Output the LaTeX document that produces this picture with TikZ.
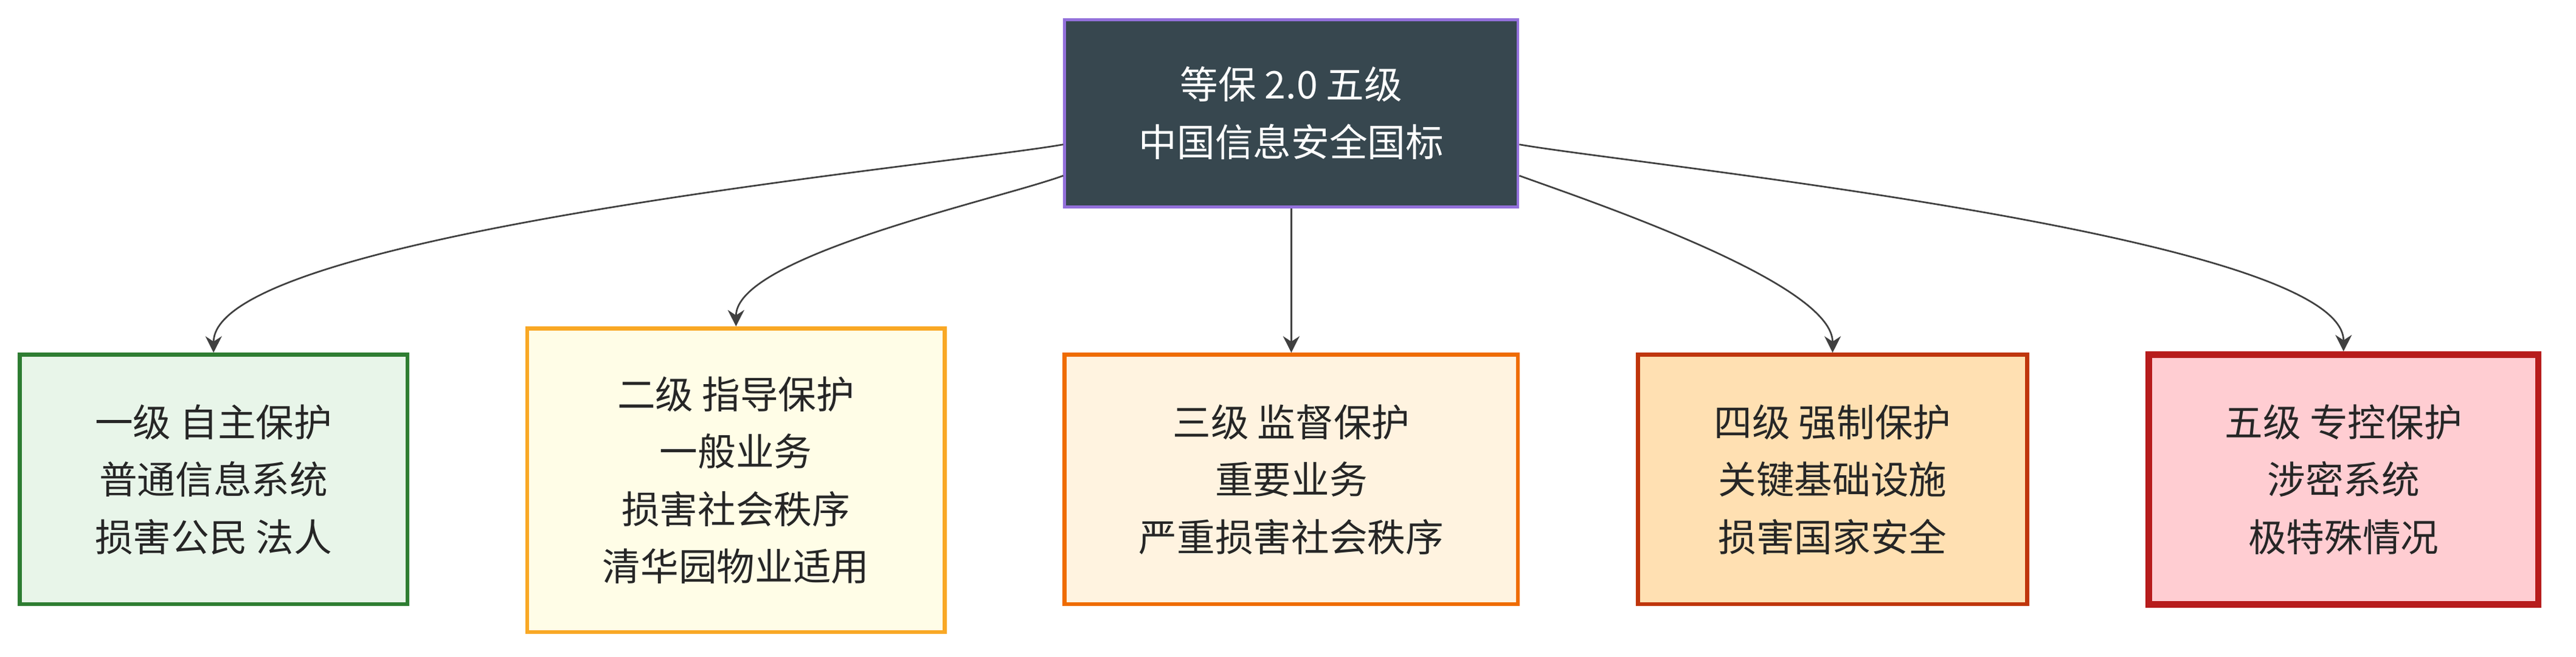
\documentclass[tikz,border=0pt]{standalone}
\usepackage{fontspec}
\setmainfont{Noto Sans CJK SC}
\usetikzlibrary{arrows.meta}
\definecolor{topfill}{HTML}{37474F}
\definecolor{topline}{HTML}{9370DB}
\definecolor{fillA}{HTML}{E8F5E9}\definecolor{lineA}{HTML}{2E7D32}
\definecolor{fillB}{HTML}{FFFDE7}\definecolor{lineB}{HTML}{F9A825}
\definecolor{fillC}{HTML}{FFF3E0}\definecolor{lineC}{HTML}{EF6C00}
\definecolor{fillD}{HTML}{FFE0B2}\definecolor{lineD}{HTML}{BF360C}
\definecolor{fillE}{HTML}{FFCDD2}\definecolor{lineE}{HTML}{B71C1C}
\tikzset{
  lvl/.style={draw, line width=1.2pt, align=center, inner sep=0pt,
    font=\fontsize{11.6}{17.5}\selectfont, text=black!85},
  link/.style={-{Stealth[length=5pt,width=5pt]}, draw=black!75, line width=0.5pt},
}
\begin{document}
\begin{tikzpicture}[x=0.5pt,y=-0.5pt]
\useasboundingbox (0,0) rectangle (1568,400);
\node[lvl, fill=topfill, draw=topline, line width=0.8pt, text=white,
  minimum width=138pt, minimum height=57pt] (root) at (786,69)
  {等保 2.0 五级\\中国信息安全国标};
\node[lvl, fill=fillA, draw=lineA, minimum width=118pt, minimum height=76pt] (g1) at (130,292)
  {一级 自主保护\\普通信息系统\\损害公民 法人};
\node[lvl, fill=fillB, draw=lineB, minimum width=127pt, minimum height=92.5pt] (g2) at (448,292.5)
  {二级 指导保护\\一般业务\\损害社会秩序\\清华园物业适用};
\node[lvl, fill=fillC, draw=lineC, minimum width=138pt, minimum height=76pt] (g3) at (786,292)
  {三级 监督保护\\重要业务\\严重损害社会秩序};
\node[lvl, fill=fillD, draw=lineD, minimum width=118.5pt, minimum height=76pt] (g4) at (1115.5,292)
  {四级 强制保护\\关键基础设施\\损害国家安全};
\node[lvl, fill=fillE, draw=lineE, line width=2pt, minimum width=118.5pt, minimum height=76pt] (g5) at (1426.5,292)
  {五级 专控保护\\涉密系统\\极特殊情况};
\draw[link] ([yshift=-9.5pt]root.west) to[out=190,in=90,looseness=0.35] (g1.north);
\draw[link] ([yshift=-19pt]root.west) to[out=200,in=90,looseness=0.5] (g2.north);
\draw[link] (root.south) -- (g3.north);
\draw[link] ([yshift=-19pt]root.east) to[out=-20,in=90,looseness=0.5] (g4.north);
\draw[link] ([yshift=-9.5pt]root.east) to[out=-10,in=90,looseness=0.35] (g5.north);
\end{tikzpicture}
\end{document}
